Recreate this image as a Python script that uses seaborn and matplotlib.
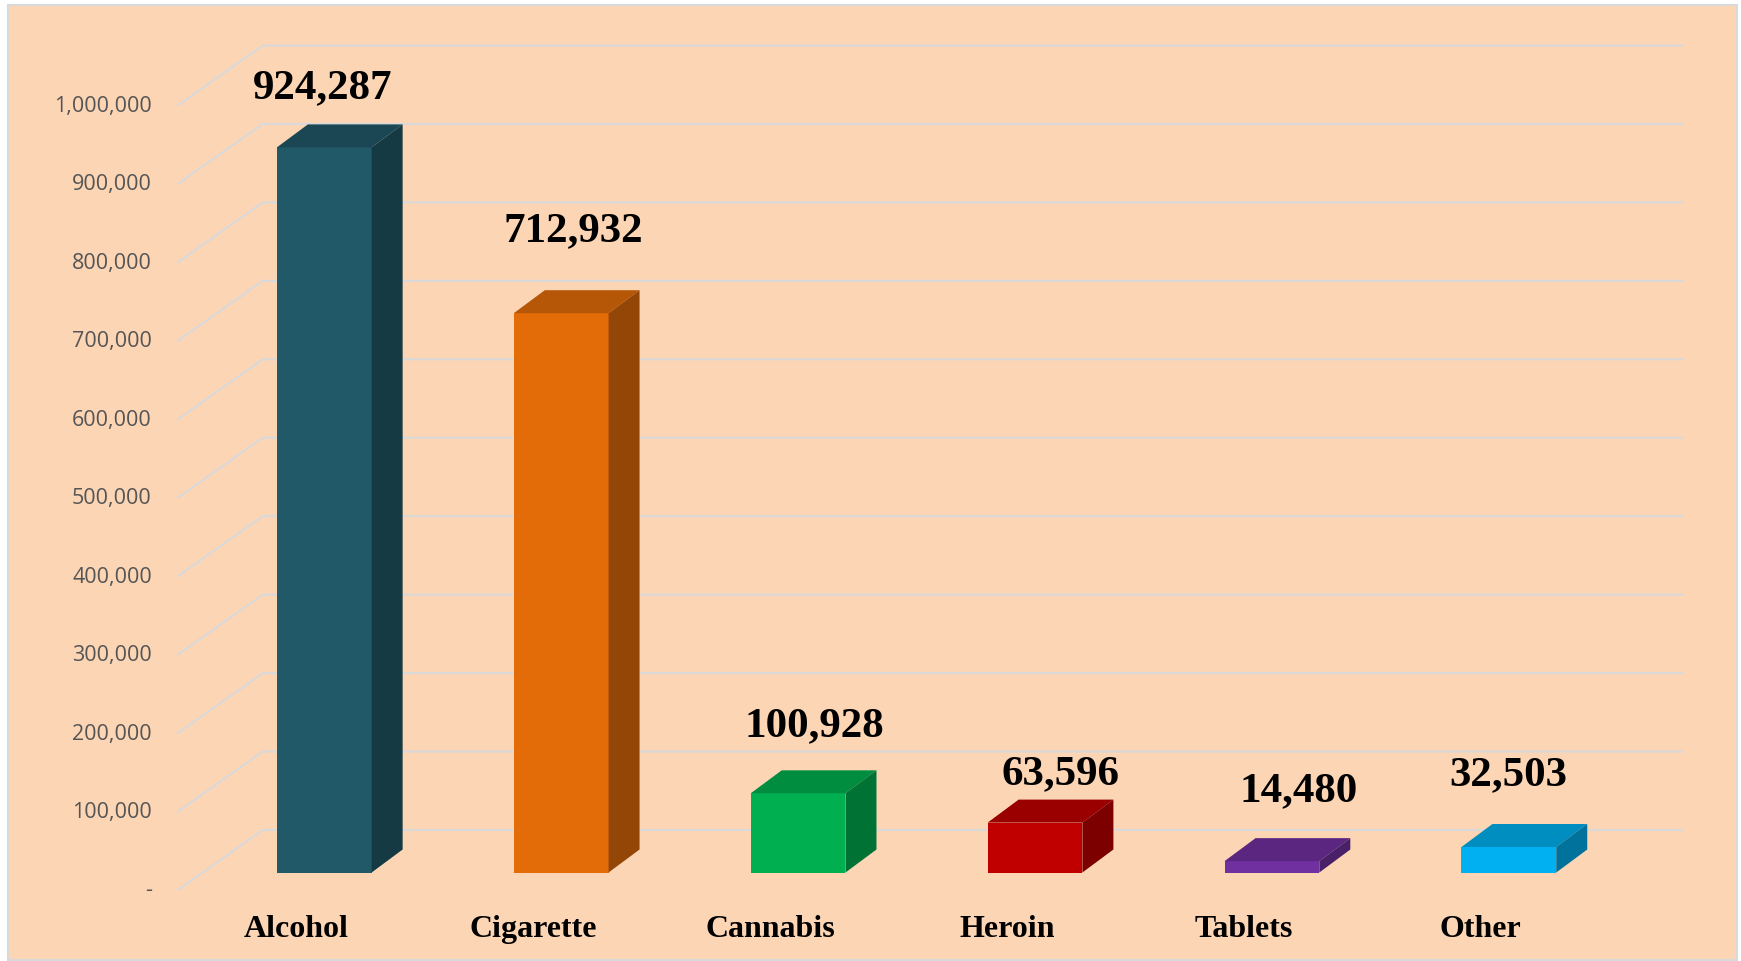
import numpy as np
import pandas as pd
import seaborn as sns
import matplotlib
matplotlib.use("Agg")
import matplotlib.pyplot as plt
import matplotlib.transforms as mtransforms
from matplotlib.patches import Polygon, Rectangle
from matplotlib.lines import Line2D

# data
categories = ["Alcohol", "Cigarette", "Cannabis", "Heroin", "Tablets", "Other"]
values = [924287, 712932, 100928, 63596, 14480, 32503]
front_colors = ["#215968", "#E36C09", "#00B050", "#C00000", "#7030A0", "#00B0F0"]
tick_values = [0, 100000, 200000, 300000, 400000, 500000,
               600000, 700000, 800000, 900000, 1000000]

# hand-placed data labels (pixel nudges from the bar top, as in the original)
label_nudge_x = [-2, 12, 16, 25, 27, -1]
label_nudge_y = [60, 83, 68, 49, 71, 73]

DPI = 100
W, H = 1741, 962
PEACH = "#FCD5B5"
GRID = "#D9D9D9"

sns.set_theme(style="white")
fig = plt.figure(figsize=(W / DPI, H / DPI), dpi=DPI)
fig.patch.set_facecolor("white")
fig.add_artist(Rectangle((8 / W, 1 / H), 1729 / W, 955 / H, transform=fig.transFigure,
                         facecolor=PEACH, edgecolor=GRID, linewidth=1.5, zorder=-10))

ax = fig.add_axes([205.8 / W, (H - 873.5) / H, 1421.5 / W, 784.5 / H])
ax.patch.set_alpha(0)

df = pd.DataFrame({"Category": categories, "Count": values})
sns.barplot(data=df, x="Category", y="Count", hue="Category", palette=front_colors,
            legend=False, width=0.4, saturation=1, linewidth=0, ax=ax, zorder=3)
ax.set_xlim(-0.5, len(categories) - 0.5)
ax.set_ylim(0, 1000000)
for s in ax.spines.values():
    s.set_visible(False)
ax.set_xticks([])
ax.set_yticks([])
ax.set_xlabel("")
ax.set_ylabel("")

ident = mtransforms.IdentityTransform()


def to_px(x, y, dx=0.0, dy=0.0):
    px, py = ax.transData.transform((x, y))
    return px + dx, py + dy


def shift(dx, dy):
    return ax.transData + mtransforms.ScaledTranslation(dx / DPI, dy / DPI, fig.dpi_scale_trans)


# floor / wall gridlines of the 3D chart
x0, x1 = ax.get_xlim()
for v in tick_values:
    fx, fy = to_px(x0, v, -28, -17.5)
    bx, by = to_px(x0, v, 57, 42.5)
    ex, ey = to_px(x1, v, 55, 42.5)
    ax.add_line(Line2D([fx, bx, ex], [fy, by, ey], transform=ident, color=GRID,
                       linewidth=1.5, clip_on=False, zorder=0.5))
    lab = "-" if v == 0 else f"{v:,.0f}"
    ax.text(x0, v, lab, transform=shift(-54, -17.5), ha="right", va="center",
            fontsize=15.5, color="#555555", family=["Open Sans", "DejaVu Sans"])


def darker(hexcol, f):
    r, g, b = matplotlib.colors.to_rgb(hexcol)
    return (r * f, g * f, b * f)


# depth faces on each bar
depth = (31, 23)
bars = sorted(ax.patches, key=lambda p: p.get_x())
for bar, col in zip(bars, front_colors):
    bl = bar.get_x()
    br = bl + bar.get_width()
    h = bar.get_height()
    ftl = to_px(bl, h)
    ftr = to_px(br, h)
    fbr = to_px(br, 0)
    top = [ftl, ftr, (ftr[0] + depth[0], ftr[1] + depth[1]), (ftl[0] + depth[0], ftl[1] + depth[1])]
    side = [fbr, ftr, (ftr[0] + depth[0], ftr[1] + depth[1]), (fbr[0] + depth[0], fbr[1] + depth[1])]
    ax.add_patch(Polygon(top, closed=True, transform=ident, facecolor=darker(col, 0.8),
                         edgecolor="none", clip_on=False, zorder=3))
    ax.add_patch(Polygon(side, closed=True, transform=ident, facecolor=darker(col, 0.65),
                         edgecolor="none", clip_on=False, zorder=3))

# value labels and category labels
for i, (cat, val) in enumerate(zip(categories, values)):
    ax.text(i, val, f"{val:,}", transform=shift(label_nudge_x[i], label_nudge_y[i]),
            ha="center", va="center", fontsize=31, fontweight="bold",
            family="Liberation Serif", color="black", zorder=5)
    ax.text(i, 0, cat, transform=shift(-28, -56.5), ha="center", va="center",
            fontsize=23, fontweight="bold", family="Liberation Serif", color="black")

fig.savefig("out.png", dpi=DPI)
